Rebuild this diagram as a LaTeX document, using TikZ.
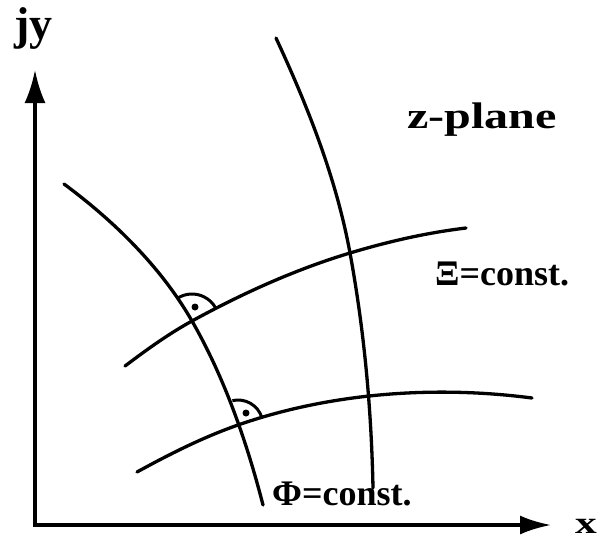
\documentclass[tikz,border=0pt]{standalone}
\usepackage{fontspec}
\usepackage{graphicx}
\setmainfont{Liberation Serif}
\usetikzlibrary{arrows.meta}
\begin{document}
\begin{tikzpicture}[x=1pt,y=-1pt,
  curve/.style={line width=3.3pt, line cap=round},
  axis/.style={line width=3.3pt, {Latex[length=33pt,width=21pt]}-{Latex[length=31pt,width=19pt]}},
  lbl/.style={inner sep=0pt, anchor=base west}]
\useasboundingbox (0,0) rectangle (603,539);
% axes
\coordinate (O) at (35,525);
\coordinate (Ytip) at (35,70);
\coordinate (Xtip) at (551,525);
\draw[axis] (Ytip) -- (O) -- (Xtip);
% intersections and ends
\coordinate (i1) at (192,321);
\coordinate (i2) at (238,425);
\coordinate (i3) at (350,253);
\coordinate (i4) at (368,395);
\coordinate (a0) at (64,184);  \coordinate (a1) at (263,505);
\coordinate (b0) at (276,38);  \coordinate (b1) at (373,488);
\coordinate (c0) at (125,366); \coordinate (c1) at (466,228);
\coordinate (d0) at (137,472); \coordinate (d1) at (532,398);
% Phi = const curves
\draw[curve] (a0) .. controls (114,221) and (161,267) .. (i1)
                  .. controls (224.5,377.6) and (246.8,442) .. (a1);
\draw[curve] (b0) .. controls (308,107) and (336.3,178.5) .. (i3)
                  .. controls (364.2,330.4) and (371.4,409) .. (b1);
% Xi = const curves
\draw[curve] (c0) .. controls (146.6,349.8) and (168.3,334) .. (i1)
                  .. controls (242,293.6) and (295.4,269.4) .. (i3)
                  .. controls (388.3,241.5) and (426.3,232.8) .. (c1);
\draw[curve] (d0) .. controls (169.4,454.2) and (203.1,437.2) .. (i2)
                  .. controls (330.5,392.7) and (435,385.3) .. (d1);
% right-angle marks
\draw[line width=3pt] ([shift={(-123:27)}]i1) arc[start angle=-123, end angle=-29, radius=27];
\fill (195,307) circle[radius=3.5];
\draw[line width=3pt] ([shift={(-103:25)}]i2) arc[start angle=-103, end angle=-17, radius=25];
\fill (246,413) circle[radius=3.5];
% labels
\node[lbl, text height=32pt] (jy) at (14,39) {\fontsize{46}{46}\selectfont\bfseries jy};
\node[lbl] (zp) at (407,128) {\fontsize{37}{37}\selectfont\bfseries\scalebox{1.3}[1]{z-plane}};
\node[lbl] (xi) at (435,285) {\fontsize{36}{36}\selectfont\bfseries \char"039E=const.};
\node[lbl] (phi) at (272,505) {\fontsize{36}{36}\selectfont\bfseries \char"03A6=const.};
\node[lbl, text depth=0pt] (xl) at (575,533) {\fontsize{31}{31}\selectfont\bfseries\scalebox{1.4}[1]{x}};
\end{tikzpicture}
\end{document}
